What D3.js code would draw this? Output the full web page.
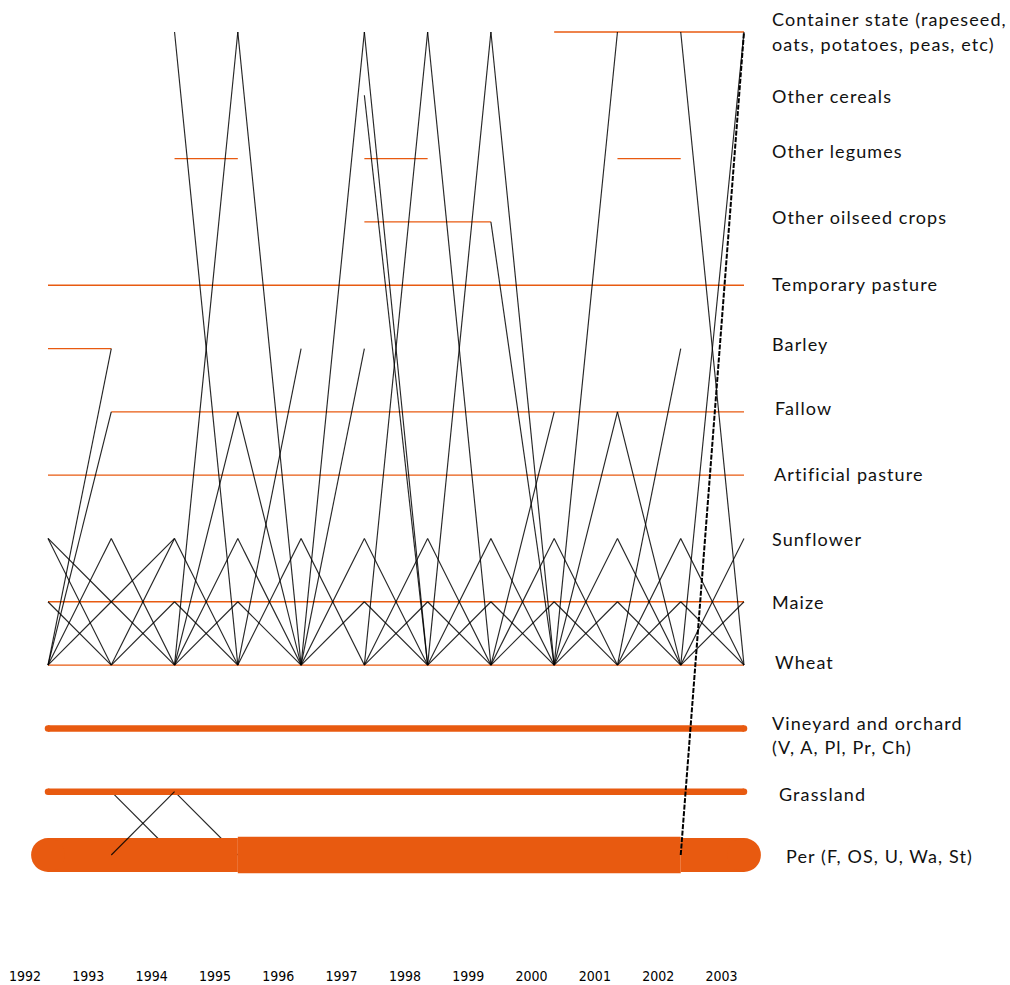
<!DOCTYPE html>
<html>
<head>
<meta charset="utf-8">
<script src="https://cdn.jsdelivr.net/npm/d3@7"></script>
<style>
  html, body { margin: 0; padding: 0; background: #ffffff; }
  svg { display: block; }
</style>
</head>
<body>
<div id="chart"></div>
<script>
// ---------------- DATA ----------------
const years = ["1992","1993","1994","1995","1996","1997","1998","1999","2000","2001","2002","2003"];

const states = ["C","OC","OL","OO","TP","B","F","AP","S","M","W","V","G","P"];

const stateLabels = [
  ["Container state (rapeseed,", "oats, potatoes, peas, etc)"],
  ["Other cereals"],
  ["Other legumes"],
  ["Other oilseed crops"],
  ["Temporary pasture"],
  ["Barley"],
  ["Fallow"],
  ["Artificial pasture"],
  ["Sunflower"],
  ["Maize"],
  ["Wheat"],
  ["Vineyard and orchard", "(V, A, Pl, Pr, Ch)"],
  ["Grassland"],
  ["Per (F, OS, U, Wa, St)"]
];

// persistent states: [state, fromYearIndex, toYearIndex, number of parcels]
const persistent = [
  ["C", 8, 11, 1],
  ["OL", 2, 3, 1], ["OL", 5, 6, 1], ["OL", 9, 10, 1],
  ["OO", 5, 7, 1],
  ["TP", 0, 11, 1],
  ["B", 0, 1, 1],
  ["F", 1, 11, 1],
  ["AP", 0, 11, 1],
  ["M", 0, 11, 1],
  ["W", 0, 11, 1],
  ["V", 0, 11, 5],
  ["G", 0, 11, 5],
  ["P", 0, 3, 26], ["P", 10, 11, 26], ["P", 3, 10, 28]
];

// transitions: [fromYearIndex, fromState, toState, weight]
const transitions = [
  [0,"W","S",1],[0,"S","W",1],[0,"M","W",1],[0,"W","M",1],[0,"S","M",1],[0,"W","B",1],[0,"W","F",1],
  [1,"W","S",1],[1,"S","W",1],[1,"M","S",1],[1,"M","W",1],[1,"W","M",1],[1,"G","P",1],[1,"P","G",1],
  [2,"W","S",1],[2,"S","W",1],[2,"M","W",1],[2,"W","M",1],[2,"C","W",1],[2,"W","C",1],[2,"W","F",1],[2,"G","P",1],
  [3,"W","S",1],[3,"S","W",1],[3,"M","W",1],[3,"C","W",1],[3,"F","W",1],[3,"W","B",1],
  [4,"W","S",1],[4,"S","W",1],[4,"W","M",1],[4,"W","B",1],[4,"W","C",1],
  [5,"W","S",1],[5,"S","W",1],[5,"M","W",1],[5,"W","M",1],[5,"C","W",1],[5,"OC","W",1],[5,"W","C",1],
  [6,"W","S",1],[6,"S","W",1],[6,"M","W",1],[6,"W","M",1],[6,"C","W",1],[6,"W","C",1],
  [7,"W","S",1],[7,"S","W",1],[7,"M","W",1],[7,"W","M",1],[7,"C","W",1],[7,"OO","W",1],[7,"W","F",1],
  [8,"W","S",1],[8,"S","W",1],[8,"M","W",1],[8,"W","M",1],[8,"W","C",1],[8,"W","F",1],
  [9,"W","S",1],[9,"S","W",1],[9,"M","W",1],[9,"W","M",1],[9,"F","W",1],[9,"W","B",1],
  [10,"W","S",1],[10,"S","W",1],[10,"M","W",1],[10,"W","M",1],[10,"C","W",1],[10,"W","C",1],[10,"P","C",2]
];

// ---------------- LAYOUT ----------------
const W = 1010, H = 985;
const ORANGE = "#e85a10";
const INK = "#000";

const labelLayout = {
  C:{dx:0,dy:[-12,13]}, OC:{dx:0,dy:[2]}, OL:{dx:0,dy:[-7]}, OO:{dx:0,dy:[-4]},
  TP:{dx:0,dy:[0]}, B:{dx:0,dy:[-4]}, F:{dx:3,dy:[-3]}, AP:{dx:2,dy:[0]},
  S:{dx:0,dy:[2]}, M:{dx:0,dy:[1]}, W:{dx:3,dy:[-2]}, V:{dx:0,dy:[-4,20]},
  G:{dx:7,dy:[3]}, P:{dx:14,dy:[2]}
};

const svg = d3.select("#chart").append("svg")
  .attr("width", W).attr("height", H)
  .attr("viewBox", [0, 0, W, H]);

const x = d3.scalePoint().domain(years).range([48, 744]);
const y = d3.scalePoint().domain(states).range([32, 855]);
const width = d3.scaleLinear().domain([0, 1]).range([0, 1.3]);

const xi = i => x(years[i]);

const thin = persistent.filter(d => d[3] === 1);
const thick = persistent.filter(d => d[3] > 1);

svg.append("g").selectAll("line").data(thin).join("line")
  .attr("x1", d => xi(d[1])).attr("x2", d => xi(d[2]))
  .attr("y1", d => y(d[0])).attr("y2", d => y(d[0]))
  .attr("stroke", ORANGE).attr("stroke-width", width(1));

const under = transitions.filter(d => d[1] !== "P");
const over = transitions.filter(d => d[1] === "P");

function drawTransitions(g, data) {
  g.selectAll("line").data(data).join("line")
    .attr("x1", d => xi(d[0])).attr("y1", d => y(d[1]))
    .attr("x2", d => xi(d[0] + 1)).attr("y2", d => y(d[2]))
    .attr("stroke", INK)
    .attr("stroke-opacity", d => d[3] > 1 ? 1 : 0.85)
    .attr("stroke-width", d => d[3] > 1 ? 2 : 1.15)
    .attr("stroke-dasharray", d => d[3] > 1 ? "5,1.5" : null);
}
drawTransitions(svg.append("g"), under);

const bandG = svg.append("g");
bandG.selectAll("line").data(thick.slice().sort((a, b) => a[3] - b[3])).join("line")
  .attr("x1", d => xi(d[1])).attr("x2", d => xi(d[2]))
  .attr("y1", d => y(d[0])).attr("y2", d => y(d[0]))
  .attr("stroke", ORANGE).attr("stroke-width", d => width(d[3]));

const bandStates = Array.from(new Set(thick.map(d => d[0])));
const caps = [];
bandStates.forEach(s => {
  const segs = thick.filter(d => d[0] === s);
  const first = segs.reduce((a, b) => (b[1] < a[1] ? b : a));
  const last = segs.reduce((a, b) => (b[2] > a[2] ? b : a));
  caps.push({ s, i: first[1], n: first[3] });
  caps.push({ s, i: last[2], n: last[3] });
});
bandG.selectAll("circle").data(caps).join("circle")
  .attr("cx", d => xi(d.i)).attr("cy", d => y(d.s))
  .attr("r", d => width(d.n) / 2).attr("fill", ORANGE);

drawTransitions(svg.append("g"), over);

// state labels
const lab = svg.append("g")
  .attr("font-family", "Lato, 'Open Sans', sans-serif")
  .attr("font-size", 18).attr("letter-spacing", 1.1).attr("fill", "#111");
states.forEach((s, k) => {
  const L = labelLayout[s];
  stateLabels[k].forEach((t, j) => {
    lab.append("text")
      .attr("x", 772 + L.dx)
      .attr("y", y(s) + L.dy[j] + 6)
      .text(t);
  });
});

// year axis
const xl = d3.scalePoint().domain(years).range([24.5, 721]);
const axis = svg.append("g")
  .attr("transform", "translate(0,971)")
  .call(d3.axisBottom(xl).tickSize(0).tickPadding(0));
axis.select(".domain").remove();
axis.selectAll("text")
  .attr("font-family", "'Liberation Sans Narrow', 'DejaVu Sans Condensed', sans-serif")
  .attr("font-size", 14).attr("fill", "#000");
</script>
</body>
</html>
